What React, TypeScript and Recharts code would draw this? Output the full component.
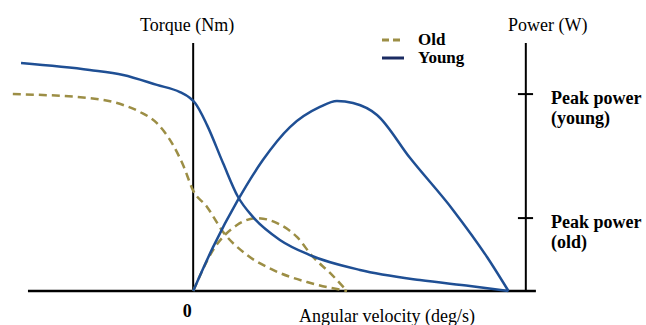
import React from "react";
import {
  ComposedChart,
  Line,
  XAxis,
  YAxis,
  ReferenceLine,
  Label,
  Legend,
} from "recharts";

// angular velocity (v) vs torque / power (y), arbitrary units
const youngTorque = [
  { v: -54.6, y: 91.9 },
  { v: -32.8, y: 89.1 },
  { v: -22.2, y: 87.1 },
  { v: -11.5, y: 83.1 },
  { v: -4.2, y: 80.2 },
  { v: -1.0, y: 77.8 },
  { v: 0.6, y: 75.8 },
  { v: 4.4, y: 66.9 },
  { v: 9.5, y: 51.5 },
  { v: 14.2, y: 38.0 },
  { v: 19.0, y: 29.8 },
  { v: 27.5, y: 20.6 },
  { v: 37.0, y: 14.5 },
  { v: 52.9, y: 8.5 },
  { v: 71.9, y: 4.4 },
  { v: 87.8, y: 2.0 },
  { v: 100, y: 0 },
];

const oldTorque = [
  { v: -57.2, y: 79.4 },
  { v: -32.8, y: 77.8 },
  { v: -22.2, y: 75.0 },
  { v: -16.9, y: 72.2 },
  { v: -11.5, y: 67.7 },
  { v: -6.4, y: 58.9 },
  { v: -3.2, y: 50.8 },
  { v: 0, y: 40.5 },
  { v: 4.4, y: 33.9 },
  { v: 9.5, y: 23.8 },
  { v: 17.1, y: 14.5 },
  { v: 25.3, y: 8.5 },
  { v: 36.1, y: 3.6 },
  { v: 48.8, y: 0 },
];

const youngPower = [
  { v: 0, y: 0 },
  { v: 6.3, y: 17.7 },
  { v: 14.2, y: 36.7 },
  { v: 22.1, y: 52.8 },
  { v: 30.7, y: 66.1 },
  { v: 40.2, y: 74.2 },
  { v: 45.6, y: 76.6 },
  { v: 50.7, y: 75.8 },
  { v: 58.3, y: 71.0 },
  { v: 68.8, y: 53.6 },
  { v: 82.4, y: 32.7 },
  { v: 93.2, y: 13.7 },
  { v: 100, y: 0 },
];

const oldPower = [
  { v: 0, y: 0 },
  { v: 6.3, y: 16.5 },
  { v: 13.9, y: 26.6 },
  { v: 20.2, y: 29.4 },
  { v: 26.6, y: 27.4 },
  { v: 32.9, y: 21.8 },
  { v: 38.0, y: 13.7 },
  { v: 43.4, y: 7.3 },
  { v: 48.8, y: 0 },
];

const peakYoung = 79.4;
const peakOld = 29.4;
const powerAxisAt = 105.5;
const xAxisStart = -52.4;
const xAxisEnd = 108.7;

const BLUE = "#1f4f94";
const OLIVE = "#9c8e45";
const SERIF = "'Liberation Serif', 'Times New Roman', serif";

const legendItems = [
  { name: "Old", color: OLIVE, dash: "7 4" },
  { name: "Young", color: "#1b2b62", dash: undefined },
];

function LegendBox() {
  return (
    <div style={{ fontFamily: SERIF, fontWeight: "bold", fontSize: 17, lineHeight: "18px" }}>
      {legendItems.map((item) => (
        <div key={item.name} style={{ display: "flex", alignItems: "center", height: 18 }}>
          <svg width={22} height={6} style={{ marginRight: 14 }}>
            <line x1={0} y1={3} x2={22} y2={3} stroke={item.color} strokeWidth={3} strokeDasharray={item.dash} />
          </svg>
          <span>{item.name}</span>
        </div>
      ))}
    </div>
  );
}

function PeakLabel({ viewBox, lines }: any) {
  const x = viewBox.x + viewBox.width + 18;
  const y = viewBox.y + 10;
  return (
    <text x={x} y={y} fontFamily={SERIF} fontWeight="bold" fontSize={18} fill="#000">
      {lines.map((l: string, i: number) => (
        <tspan key={l} x={x} dy={i === 0 ? 0 : 20}>
          {l}
        </tspan>
      ))}
    </text>
  );
}

export default function App() {
  return (
    <div style={{ position: "absolute", left: 0, top: 0, background: "#fff" }}>
      <ComposedChart width={646} height={325} margin={{ top: 43, right: 106, bottom: 0, left: 4 }}>
        <XAxis
          type="number"
          dataKey="v"
          domain={[-60, 110]}
          allowDataOverflow
          ticks={[0]}
          axisLine={false}
          tickLine={false}
          tickMargin={7}
          height={34}
          tick={{ fontFamily: SERIF, fontWeight: "bold", fontSize: 18, fill: "#000", dx: -6 }}
        >
          <Label
            value="Angular velocity (deg/s)"
            position="center"
            dx={115}
            dy={8}
            style={{ fontFamily: SERIF, fontSize: 18, fill: "#000" }}
          />
        </XAxis>
        <YAxis hide domain={[0, 100]} />
        <Legend
          layout="vertical"
          align="center"
          verticalAlign="middle"
          wrapperStyle={{ left: 382, top: 31, width: 100 }}
          content={<LegendBox />}
        />

        <ReferenceLine
          segment={[
            { x: xAxisStart, y: 0 },
            { x: xAxisEnd, y: 0 },
          ]}
          stroke="#000"
          strokeWidth={2.5}
          ifOverflow="visible"
        />
        <ReferenceLine x={0} stroke="#000" strokeWidth={2}>
          <Label
            value="Torque (Nm)"
            position="top"
            offset={12}
            dx={-6}
            style={{ fontFamily: SERIF, fontSize: 18, fill: "#000" }}
          />
        </ReferenceLine>
        <ReferenceLine x={powerAxisAt} stroke="#000" strokeWidth={2} ifOverflow="visible">
          <Label
            value="Power (W)"
            position="top"
            offset={12}
            dx={22}
            style={{ fontFamily: SERIF, fontSize: 18, fill: "#000" }}
          />
        </ReferenceLine>
        <ReferenceLine
          segment={[
            { x: powerAxisAt - 2.5, y: peakYoung },
            { x: powerAxisAt + 2.3, y: peakYoung },
          ]}
          stroke="#000"
          strokeWidth={2}
          ifOverflow="visible"
          label={<PeakLabel lines={["Peak power", "(young)"]} />}
        />
        <ReferenceLine
          segment={[
            { x: powerAxisAt - 2.5, y: peakOld },
            { x: powerAxisAt + 2.3, y: peakOld },
          ]}
          stroke="#000"
          strokeWidth={2}
          ifOverflow="visible"
          label={<PeakLabel lines={["Peak power", "(old)"]} />}
        />

        <Line data={oldTorque} dataKey="y" type="monotone" stroke={OLIVE} strokeWidth={2.5} strokeDasharray="8 5" dot={false} activeDot={false} isAnimationActive={false} />
        <Line data={oldPower} dataKey="y" type="monotone" stroke={OLIVE} strokeWidth={2.5} strokeDasharray="8 5" dot={false} activeDot={false} isAnimationActive={false} />
        <Line data={youngTorque} dataKey="y" type="monotone" stroke={BLUE} strokeWidth={2.5} dot={false} activeDot={false} isAnimationActive={false} />
        <Line data={youngPower} dataKey="y" type="monotone" stroke={BLUE} strokeWidth={2.5} dot={false} activeDot={false} isAnimationActive={false} />
      </ComposedChart>
    </div>
  );
}
